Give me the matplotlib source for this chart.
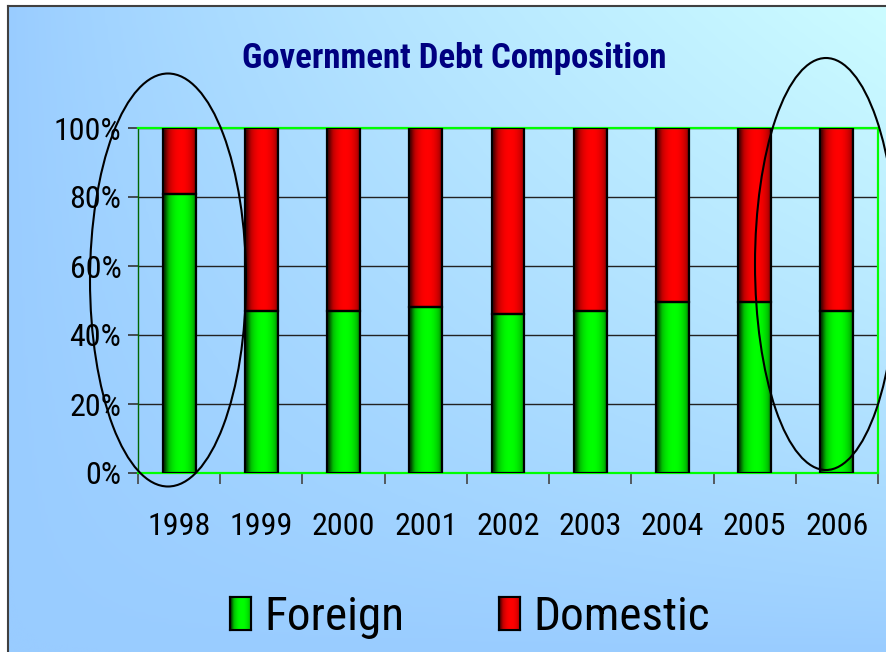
import numpy as np
import matplotlib
matplotlib.use("Agg")
from matplotlib import pyplot as plt
from matplotlib.colors import LinearSegmentedColormap
from matplotlib.patches import Ellipse, Patch
from matplotlib.ticker import FixedLocator, PercentFormatter

plt.rcParams['font.family'] = ['Roboto Condensed', 'DejaVu Sans']

years = ['1998', '1999', '2000', '2001', '2002', '2003', '2004', '2005', '2006']
foreign = [81, 47, 47, 48, 46, 47, 49.5, 49.5, 47]  # 外债占比 %
domestic = [100 - f for f in foreign]  # 内债占比 %

W, H = 887, 652
fig = plt.figure(figsize=(W / 100, H / 100), dpi=100)
fig.patch.set_facecolor('white')

# 背景渐变（左下蓝 -> 右上浅青）
bg = fig.add_axes([8 / W, 0, 1 - 8 / W, 1 - 6 / H], zorder=-10)
u = np.linspace(0, 1, 300)[None, :]
v = np.linspace(1, 0, 220)[:, None]
t = np.clip(u * v, 0, 1) ** 0.8
bg_cmap = LinearSegmentedColormap.from_list('bg', ['#99ccff', '#b4e4ff', '#ccfcff'])
bg.imshow(t, cmap=bg_cmap, aspect='auto', extent=[0, 1, 0, 1], interpolation='bicubic')
bg.set_xlim(0, 1)
bg.set_ylim(0, 1)
bg.set_xticks([])
bg.set_yticks([])
for s in ['right', 'bottom']:
    bg.spines[s].set_visible(False)
for s in ['left', 'top']:
    bg.spines[s].set_color('#404040')
    bg.spines[s].set_linewidth(1.5)

ax = fig.add_axes([138 / W, 1 - 473 / H, 740 / W, 345 / H])
ax.set_facecolor('none')

x = np.arange(len(years))
bw = 0.4
b1 = ax.bar(x, foreign, bw, facecolor='none', edgecolor='black', linewidth=1.6, zorder=3)
b2 = ax.bar(x, domestic, bw, bottom=foreign, facecolor='none', edgecolor='black', linewidth=1.6, zorder=3)

# 柱子的圆柱形明暗
tt = np.linspace(0, 1, 64)
shade = (1 - np.abs(2 * tt - 1.1) ** 2.2)[None, :]
green_cmap = LinearSegmentedColormap.from_list('g', ['#004000', '#00c000', '#00ff00'])
red_cmap = LinearSegmentedColormap.from_list('r', ['#500000', '#c00000', '#ff0000'])
for bars, cmap in [(b1, green_cmap), (b2, red_cmap)]:
    for rect in bars:
        x0, y0 = rect.get_x(), rect.get_y()
        im = ax.imshow(shade, cmap=cmap, vmin=0, vmax=1, aspect='auto',
                       extent=[x0, x0 + rect.get_width(), y0, y0 + rect.get_height()],
                       zorder=2, interpolation='bilinear')
        im.set_clip_path(rect)

ax.set_xlim(-0.5, len(years) - 0.5)
ax.set_ylim(0, 100)

ax.yaxis.set_major_locator(FixedLocator([0, 20, 40, 60, 80, 100]))
ax.yaxis.set_major_formatter(PercentFormatter(decimals=0))
ax.grid(axis='y', color='#222222', linewidth=1.0, zorder=1)
ax.set_axisbelow(True)

ax.set_xticks(x)
ax.set_xticklabels(years)
ax.set_xticks(np.arange(-0.5, len(years)), minor=True)
ax.tick_params(axis='x', which='major', length=0, pad=28, labelsize=23)
ax.tick_params(axis='x', which='minor', length=8, width=1.2, color='#444444')
ax.tick_params(axis='y', length=7, width=1.2, color='#333333', pad=5, labelsize=23)

for s in ['top', 'right', 'bottom']:
    ax.spines[s].set_color('#00ff00')
    ax.spines[s].set_linewidth(1.6)
ax.spines['left'].set_color('#006600')
ax.spines['left'].set_linewidth(1.0)

fig.text(454 / W, 1 - 68 / H, 'Government Debt Composition', ha='center', va='baseline',
         fontsize=25, fontweight='bold', color='#000080')

handles = [Patch(facecolor='#00e000', edgecolor='black', linewidth=1.5),
           Patch(facecolor='#e00000', edgecolor='black', linewidth=1.5)]
leg = fig.legend(handles, ['Foreign', 'Domestic'], loc='center', ncol=2,
                 bbox_to_anchor=(470 / W, 1 - 617 / H), frameon=False, fontsize=34,
                 handlelength=0.445, handleheight=0.7, handletextpad=0.28, columnspacing=2.0)

# 图例色块也加上明暗：在色块位置叠一个小坐标轴画渐变
fig.canvas.draw()
renderer = fig.canvas.get_renderer()
for h, cmap in zip(leg.legend_handles, [green_cmap, red_cmap]):
    bb = h.get_window_extent(renderer)
    hax = fig.add_axes([bb.x0 / W, bb.y0 / H, bb.width / W, bb.height / H], zorder=10)
    hax.imshow(shade, cmap=cmap, vmin=0, vmax=1, aspect='auto', interpolation='bilinear')
    hax.set_xticks([])
    hax.set_yticks([])
    for sp in hax.spines.values():
        sp.set_color('black')
        sp.set_linewidth(1.5)

# 重点年份的圈注
for cx, cy, ew, eh in [(168, 280, 156, 413), (826, 264, 142, 412)]:
    fig.add_artist(Ellipse((cx / W, 1 - cy / H), ew / W, eh / H, transform=fig.transFigure,
                           fill=False, edgecolor='black', linewidth=1.5, zorder=20))

fig.savefig('out.png', dpi=100)
